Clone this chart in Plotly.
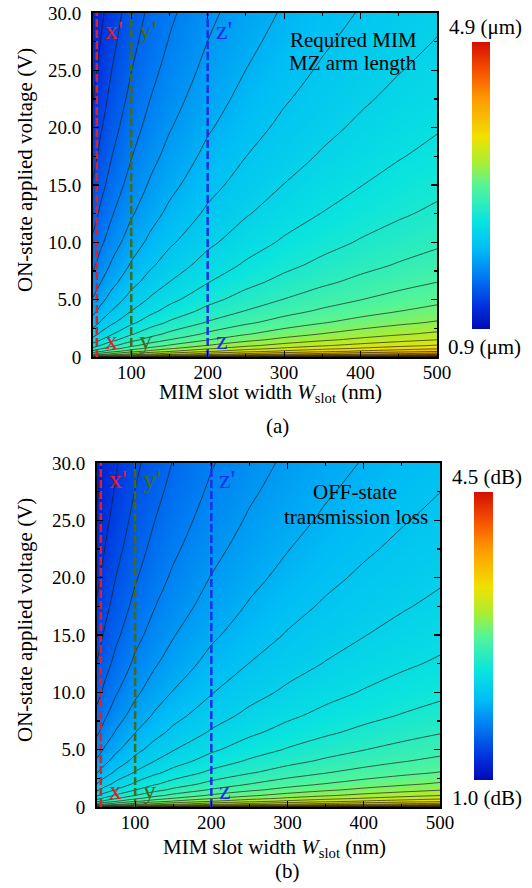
import plotly.graph_objects as go

# ---------------- data ----------------
W_nm = [50, 60, 75, 100, 125, 150, 200, 250, 300, 350, 400, 450, 500]
V_on = [0, 0.1, 0.25, 0.5, 0.75, 1, 1.5, 2, 3, 4, 5, 6.5, 8, 10,
        12.5, 15, 17.5, 20, 22.5, 25, 27.5, 30]

# (a) required MIM MZ arm length (um); rows follow V_on, columns follow W_nm
arm_length_um = [
    [3.749, 3.836, 3.943, 4.081, 4.188, 4.276, 4.414, 4.521, 4.609, 4.683, 4.747, 4.803, 4.854],
    [3.247, 3.335, 3.442, 3.580, 3.687, 3.775, 3.913, 4.020, 4.108, 4.181, 4.246, 4.302, 4.353],
    [2.956, 3.044, 3.151, 3.289, 3.396, 3.484, 3.622, 3.729, 3.816, 3.890, 3.954, 4.011, 4.061],
    [2.708, 2.795, 2.902, 3.040, 3.147, 3.235, 3.373, 3.480, 3.568, 3.642, 3.706, 3.762, 3.813],
    [2.555, 2.643, 2.750, 2.888, 2.995, 3.083, 3.221, 3.328, 3.415, 3.489, 3.553, 3.610, 3.661],
    [2.445, 2.533, 2.640, 2.778, 2.885, 2.973, 3.111, 3.218, 3.305, 3.379, 3.443, 3.500, 3.551],
    [2.288, 2.376, 2.483, 2.621, 2.728, 2.816, 2.954, 3.061, 3.148, 3.222, 3.286, 3.343, 3.394],
    [2.176, 2.263, 2.370, 2.509, 2.616, 2.703, 2.841, 2.948, 3.036, 3.110, 3.174, 3.231, 3.281],
    [2.016, 2.104, 2.211, 2.349, 2.456, 2.544, 2.682, 2.789, 2.876, 2.950, 3.014, 3.071, 3.121],
    [1.903, 1.990, 2.097, 2.235, 2.342, 2.430, 2.568, 2.675, 2.763, 2.837, 2.901, 2.957, 3.008],
    [1.814, 1.902, 2.009, 2.147, 2.254, 2.341, 2.479, 2.587, 2.674, 2.748, 2.812, 2.869, 2.919],
    [1.710, 1.797, 1.904, 2.043, 2.150, 2.237, 2.375, 2.482, 2.570, 2.644, 2.708, 2.765, 2.815],
    [1.627, 1.715, 1.822, 1.960, 2.067, 2.155, 2.293, 2.400, 2.487, 2.561, 2.625, 2.682, 2.732],
    [1.538, 1.626, 1.733, 1.871, 1.978, 2.066, 2.204, 2.311, 2.399, 2.472, 2.537, 2.593, 2.644],
    [1.449, 1.537, 1.644, 1.782, 1.889, 1.977, 2.115, 2.222, 2.310, 2.383, 2.448, 2.504, 2.555],
    [1.377, 1.464, 1.571, 1.709, 1.817, 1.904, 2.042, 2.149, 2.237, 2.311, 2.375, 2.431, 2.482],
    [1.315, 1.403, 1.510, 1.648, 1.755, 1.843, 1.981, 2.088, 2.175, 2.249, 2.313, 2.370, 2.420],
    [1.262, 1.349, 1.457, 1.595, 1.702, 1.789, 1.927, 2.034, 2.122, 2.196, 2.260, 2.317, 2.367],
    [1.215, 1.302, 1.410, 1.548, 1.655, 1.742, 1.880, 1.987, 2.075, 2.149, 2.213, 2.270, 2.320],
    [1.173, 1.260, 1.367, 1.506, 1.613, 1.700, 1.838, 1.945, 2.033, 2.107, 2.171, 2.228, 2.278],
    [1.135, 1.222, 1.329, 1.468, 1.575, 1.662, 1.800, 1.907, 1.995, 2.069, 2.133, 2.190, 2.240],
    [1.100, 1.188, 1.295, 1.433, 1.540, 1.627, 1.765, 1.873, 1.960, 2.034, 2.098, 2.155, 2.205],
]

# (b) OFF-state transmission loss (dB)
loss_dB = [
    [3.335, 3.403, 3.485, 3.592, 3.674, 3.742, 3.848, 3.931, 3.998, 4.055, 4.105, 4.148, 4.187],
    [2.922, 2.989, 3.072, 3.178, 3.261, 3.328, 3.435, 3.517, 3.585, 3.642, 3.691, 3.735, 3.774],
    [2.681, 2.749, 2.831, 2.938, 3.020, 3.088, 3.194, 3.277, 3.344, 3.401, 3.451, 3.494, 3.533],
    [2.476, 2.544, 2.626, 2.733, 2.815, 2.883, 2.989, 3.072, 3.139, 3.196, 3.246, 3.289, 3.328],
    [2.351, 2.418, 2.501, 2.607, 2.690, 2.757, 2.864, 2.946, 3.014, 3.071, 3.120, 3.164, 3.203],
    [2.260, 2.327, 2.410, 2.516, 2.599, 2.666, 2.773, 2.855, 2.923, 2.980, 3.029, 3.073, 3.112],
    [2.130, 2.198, 2.280, 2.387, 2.469, 2.537, 2.643, 2.726, 2.793, 2.850, 2.900, 2.943, 2.982],
    [2.038, 2.105, 2.188, 2.294, 2.377, 2.444, 2.551, 2.633, 2.701, 2.758, 2.807, 2.851, 2.890],
    [1.906, 1.973, 2.056, 2.162, 2.245, 2.312, 2.419, 2.501, 2.569, 2.626, 2.675, 2.719, 2.758],
    [1.812, 1.880, 1.962, 2.069, 2.151, 2.219, 2.325, 2.408, 2.475, 2.532, 2.582, 2.625, 2.664],
    [1.739, 1.807, 1.889, 1.996, 2.078, 2.146, 2.252, 2.335, 2.402, 2.459, 2.509, 2.552, 2.591],
    [1.653, 1.721, 1.803, 1.910, 1.992, 2.060, 2.166, 2.249, 2.316, 2.373, 2.423, 2.466, 2.505],
    [1.585, 1.653, 1.735, 1.841, 1.924, 1.992, 2.098, 2.181, 2.248, 2.305, 2.354, 2.398, 2.437],
    [1.512, 1.579, 1.662, 1.768, 1.851, 1.918, 2.025, 2.107, 2.175, 2.232, 2.281, 2.325, 2.364],
    [1.438, 1.506, 1.588, 1.695, 1.777, 1.845, 1.951, 2.034, 2.101, 2.158, 2.208, 2.251, 2.290],
    [1.378, 1.446, 1.528, 1.635, 1.717, 1.785, 1.891, 1.974, 2.041, 2.098, 2.148, 2.191, 2.230],
    [1.328, 1.395, 1.478, 1.584, 1.667, 1.734, 1.840, 1.923, 1.991, 2.048, 2.097, 2.141, 2.180],
    [1.284, 1.351, 1.434, 1.540, 1.623, 1.690, 1.797, 1.879, 1.947, 2.004, 2.053, 2.097, 2.136],
    [1.245, 1.312, 1.395, 1.501, 1.584, 1.651, 1.758, 1.840, 1.908, 1.965, 2.014, 2.058, 2.097],
    [1.210, 1.278, 1.360, 1.467, 1.549, 1.617, 1.723, 1.806, 1.873, 1.930, 1.980, 2.023, 2.062],
    [1.179, 1.246, 1.329, 1.435, 1.518, 1.585, 1.692, 1.774, 1.842, 1.899, 1.948, 1.992, 2.031],
    [1.150, 1.218, 1.300, 1.406, 1.489, 1.557, 1.663, 1.746, 1.813, 1.870, 1.919, 1.963, 2.002],
]

arm_range = [0.9, 4.9]
loss_range = [1.0, 4.5]

x_ticks = [100, 200, 300, 400, 500]
x_minor = [50, 150, 250, 350, 450]
y_ticks = [0, 5, 10, 15, 20, 25, 30]
y_tick_text = ["0", "5.0", "10.0", "15.0", "20.0", "25.0", "30.0"]
y_minor = [2.5, 7.5, 12.5, 17.5, 22.5, 27.5]

mark_W = [55, 100, 200]
mark_names = ["x", "y", "z"]
mark_colors = ["#e0202a", "#3f6b22", "#1f2fe6"]

# ---------------- style ----------------
FONT = "Liberation Serif"
PAGE_W, PAGE_H = 532, 888
colorscale = [
    [0.00, "rgb(0,10,180)"],
    [0.08, "rgb(0,50,222)"],
    [0.18, "rgb(0,120,242)"],
    [0.28, "rgb(0,190,245)"],
    [0.38, "rgb(10,228,222)"],
    [0.50, "rgb(85,245,150)"],
    [0.58, "rgb(170,238,50)"],
    [0.67, "rgb(240,225,0)"],
    [0.80, "rgb(255,155,0)"],
    [0.90, "rgb(245,80,0)"],
    [1.00, "rgb(212,15,0)"],
]


def px(x, y):
    """page pixel -> paper fraction"""
    return x / PAGE_W, 1 - y / PAGE_H


fig = go.Figure()

panels = [
    dict(z=arm_length_um, rng=arm_range, ax="", size=0.145, start=0.929,
         xdom=(93, 437), ydom=(13, 357), cb=(472, 42, 287, 18)),
    dict(z=loss_dB, rng=loss_range, ax="2", size=0.12, start=1.072,
         xdom=(97, 440), ydom=(463, 807), cb=(474, 492, 288, 19)),
]

for p in panels:
    xa, ya = "x" + p["ax"], "y" + p["ax"]
    cbx, cby = px(p["cb"][0], p["cb"][1])
    fig.add_trace(go.Heatmap(
        x=W_nm, y=V_on, z=p["z"], zmin=p["rng"][0], zmax=p["rng"][1],
        zsmooth="best", colorscale=colorscale, xaxis=xa, yaxis=ya,
        hoverinfo="skip",
        colorbar=dict(x=cbx, xanchor="left", y=cby, yanchor="top",
                      len=p["cb"][2], lenmode="pixels",
                      thickness=p["cb"][3], thicknessmode="pixels",
                      xpad=0, ypad=0, outlinewidth=0,
                      showticklabels=False, ticks=""),
    ))
    fig.add_trace(go.Contour(
        x=W_nm, y=V_on, z=p["z"], xaxis=xa, yaxis=ya, showscale=False,
        contours=dict(start=p["start"], end=p["rng"][1],
                      size=p["size"], coloring="none"),
        line=dict(color="rgba(25,25,25,0.85)", width=0.8, smoothing=1.0),
        hoverinfo="skip",
    ))
    for w, c in zip(mark_W, mark_colors):
        fig.add_trace(go.Scatter(
            x=[w, w], y=[V_on[0], V_on[-1]], mode="lines", xaxis=xa, yaxis=ya,
            line=dict(color=c, width=2.5, dash="8px,3px"), hoverinfo="skip",
            showlegend=False))

axis_common = dict(showline=True, linewidth=2, linecolor="black", mirror="ticks",
                   ticks="inside", ticklen=6, tickwidth=1.2, tickcolor="black",
                   showgrid=False, zeroline=False, automargin=False,
                   ticklabeloverflow="allow",
                   tickfont=dict(family=FONT, size=19, color="black"))

for p in panels:
    key = p["ax"]
    x0, y0 = px(p["xdom"][0], p["ydom"][1])
    x1, y1 = px(p["xdom"][1], p["ydom"][0])
    fig.layout["xaxis" + key] = dict(
        axis_common, domain=[x0, x1], range=[W_nm[0], W_nm[-1]],
        anchor="y" + key, tickmode="array", tickvals=x_ticks,
        ticklabelstandoff=-3,
        minor=dict(tickmode="array", tickvals=x_minor, ticks="inside",
                   ticklen=3, tickcolor="black", showgrid=False))
    fig.layout["yaxis" + key] = dict(
        axis_common, domain=[y0, y1], range=[V_on[0], V_on[-1]],
        anchor="x" + key, tickmode="array", tickvals=y_ticks,
        ticktext=y_tick_text, ticklabelstandoff=6,
        minor=dict(tickmode="array", tickvals=y_minor, ticks="inside",
                   ticklen=3, tickcolor="black", showgrid=False))

ann = []


def text(x, y, s, size=21, angle=0, color="black", xanchor="center"):
    ax, ay = px(x, y)
    ann.append(dict(x=ax, y=ay, xref="paper", yref="paper", text=s,
                    showarrow=False, textangle=angle, xanchor=xanchor,
                    yanchor="middle",
                    font=dict(family=FONT, size=size, color=color)))


# axis titles and captions
text(25, 170, "ON-state applied voltage (V)", angle=-90)
text(25, 620, "ON-state applied voltage (V)", angle=-90)
text(270, 393, "MIM slot width <i>W</i><sub>slot</sub> (nm)")
text(274, 848, "MIM slot width <i>W</i><sub>slot</sub> (nm)")
text(277, 426, "(a)")
text(287, 871, "(b)")
# in-plot captions
text(353, 40, "Required MIM")
text(353, 63, "MZ arm length")
text(355, 492, "OFF-state")
text(356, 517, "transmission loss")
# colorbar end labels
text(485, 27, "4.9 (μm)")
text(484, 347, "0.9 (μm)")
text(487, 477, "4.5 (dB)")
text(487, 798, "1.0 (dB)")

# marker labels next to the dashed lines
for p in panels:
    key = p["ax"]
    for w, n, c in zip(mark_W, mark_names, mark_colors):
        ann.append(dict(x=w, y=V_on[-1], xref="x" + key, yref="y" + key,
                        text=n + "'", showarrow=False, xanchor="left",
                        yanchor="middle", xshift=6, yshift=-17,
                        font=dict(family=FONT, size=26, color=c)))
        ann.append(dict(x=w, y=V_on[0], xref="x" + key, yref="y" + key,
                        text=n, showarrow=False, xanchor="left",
                        yanchor="middle", xshift=6, yshift=17,
                        font=dict(family=FONT, size=26, color=c)))

fig.update_layout(width=PAGE_W, height=PAGE_H, margin=dict(l=0, r=0, t=0, b=0),
                  paper_bgcolor="white", plot_bgcolor="white",
                  showlegend=False, annotations=ann,
                  font=dict(family=FONT, color="black"))

fig.write_html("out.html",
               config={"displayModeBar": False, "staticPlot": True},
               post_script="document.body.style.margin='0px';"
                           "document.body.style.overflow='hidden';")
